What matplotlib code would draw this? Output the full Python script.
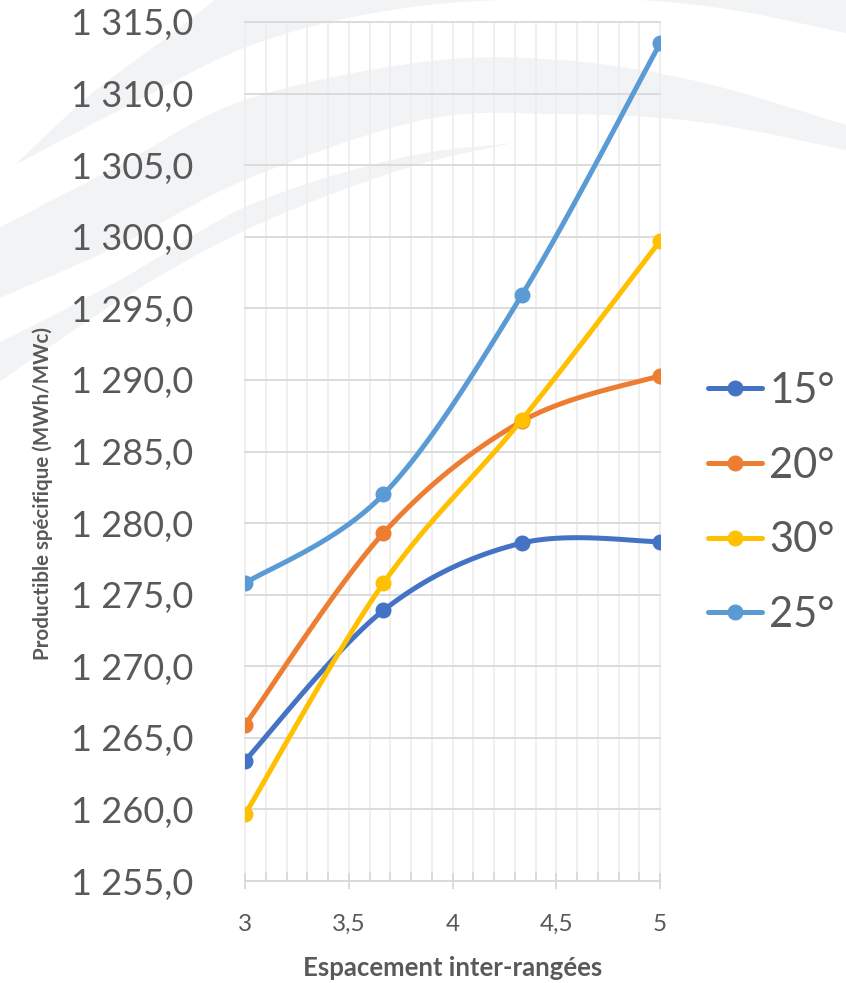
import numpy as np
import matplotlib
matplotlib.use("Agg")
import matplotlib.pyplot as plt
from matplotlib.lines import Line2D
from matplotlib.patches import Polygon
from matplotlib.ticker import FuncFormatter, MultipleLocator

plt.rcParams['font.family'] = ['Lato', 'DejaVu Sans']

# espacement inter-rangées
espacement = [3, 3.667, 4.333, 5]

# productible spécifique (MWh/MWc) par inclinaison
prod_15 = [1263.4, 1273.9, 1278.6, 1278.7]
prod_20 = [1265.9, 1279.3, 1287.1, 1290.3]
prod_30 = [1259.65, 1275.8, 1287.2, 1299.7]
prod_25 = [1275.8, 1282.0, 1295.9, 1313.5]

labels = ["15°", "20°", "30°", "25°"]
couleurs = ["#4472C4", "#ED7D31", "#FFC000", "#5B9BD5"]
valeurs = [prod_15, prod_20, prod_30, prod_25]

GRIS_TEXTE = "#595959"
GRIS_GRILLE = "#D9D9D9"


def lisser(xs, ys, n=40):
    # courbe lissée (bezier, tension 1/6)
    p = np.column_stack([xs, ys]).astype(float)
    pts = np.vstack([p[0], p, p[-1]])
    t = np.linspace(0, 1, n)[:, None]
    out = []
    for i in range(len(p) - 1):
        p0, p1, p2, p3 = pts[i], pts[i + 1], pts[i + 2], pts[i + 3]
        c1 = p1 + (p2 - p0) / 6
        c2 = p2 - (p3 - p1) / 6
        seg = (1 - t) ** 3 * p1 + 3 * (1 - t) ** 2 * t * c1 + 3 * (1 - t) * t ** 2 * c2 + t ** 3 * p2
        out.append(seg if i == 0 else seg[1:])
    out = np.vstack(out)
    return out[:, 0], out[:, 1]


W, H = 846, 983
fig = plt.figure(figsize=(W / 100, H / 100), dpi=100)

# filigrane en arrière-plan (pixels, origine en haut à gauche)
def bande(haut, bas, extra=()):
    ux, uy = lisser([p[0] for p in haut], [p[1] for p in haut], 30)
    lx, ly = lisser([p[0] for p in bas], [p[1] for p in bas], 30)
    xs = list(ux) + [p[0] for p in extra] + list(lx[::-1])
    ys = list(uy) + [p[1] for p in extra] + list(ly[::-1])
    xy = np.column_stack([np.array(xs) / W, 1 - np.array(ys) / H])
    fig.add_artist(Polygon(xy, closed=True, transform=fig.transFigure,
                           facecolor="#F2F3F5", edgecolor="none", zorder=-5))

bande([(15, 165), (90, 95), (170, 35), (240, -20)],
      [(15, 165), (120, 110), (260, 42), (420, 6), (600, -1), (720, 8), (846, 33)],
      extra=[(300, -80), (846, -80)])
bande([(-5, 230), (120, 165), (245, 100), (423, 62), (560, 60), (700, 82), (846, 125)],
      [(-5, 300), (120, 245), (245, 180), (423, 120), (560, 114), (700, 122), (846, 150)])
bande([(-5, 345), (120, 280), (250, 205), (400, 158), (513, 143)],
      [(-5, 385), (120, 300), (250, 228), (400, 170), (513, 143)])

ax = fig.add_axes([245 / W, 102 / H, 415 / W, 859 / H])
ax.patch.set_alpha(0)

for lab, ys, c in zip(labels, valeurs, couleurs):
    sx, sy = lisser(espacement, ys)
    ax.plot(sx, sy, color=c, lw=3.6, solid_capstyle="round", zorder=3)
    ax.plot(espacement, ys, "o", color=c, ms=10.5, zorder=3)

ax.set_xlim(3, 5)
ax.set_ylim(1255, 1315)
ax.xaxis.set_major_locator(MultipleLocator(0.5))
ax.xaxis.set_minor_locator(MultipleLocator(0.1))
ax.yaxis.set_major_locator(MultipleLocator(5))
ax.xaxis.set_major_formatter(FuncFormatter(lambda v, p: f"{v:g}".replace(".", ",")))
ax.yaxis.set_major_formatter(FuncFormatter(
    lambda v, p: f"{v:,.1f}".replace(",", " ").replace(".", ",")))

ax.set_axisbelow(True)
ax.grid(axis="y", which="major", color=GRIS_GRILLE, lw=1.3)
ax.grid(axis="x", which="both", color="#EEEEEE", lw=1.3)
for gl in ax.get_xgridlines() + ax.get_ygridlines():
    gl.set_clip_on(False)
for gl in ax.xaxis.get_minorticklines():
    gl.set_clip_on(False)

for s in ["left", "right", "top"]:
    ax.spines[s].set_visible(False)
ax.spines["bottom"].set_color(GRIS_GRILLE)
ax.spines["bottom"].set_linewidth(1.3)

ax.tick_params(axis="y", length=0, pad=37, labelsize=26, labelcolor=GRIS_TEXTE)
ax.tick_params(axis="x", which="major", direction="inout", length=11.5, width=1.3,
               color=GRIS_GRILLE, pad=18, labelsize=17.5, labelcolor=GRIS_TEXTE)
ax.tick_params(axis="x", which="minor", direction="in", length=6.5, width=1.3,
               color=GRIS_GRILLE)

ax.set_xlabel("Espacement inter-rangées", fontsize=18.5, fontweight="bold",
              color=GRIS_TEXTE, va="center")
ax.xaxis.set_label_coords(0.5, (H - 968 - 102) / 859)
ax.set_ylabel("Productible spécifique (MWh/MWc)", fontsize=14.8, fontweight="bold",
              color=GRIS_TEXTE, va="center")
ax.yaxis.set_label_coords((43 - 245) / 415, (H - 494 - 102) / 859)

poignees = [Line2D([], [], color=c, lw=3.6, marker="o", ms=10.5, solid_capstyle="round")
            for c in couleurs]
ax.legend(poignees, labels, loc="center left", bbox_to_anchor=(708 / W, 1 - 503 / H),
          bbox_transform=fig.transFigure, frameon=False, fontsize=30,
          handlelength=1.3, handletextpad=0.17, labelspacing=0.88,
          borderpad=0, borderaxespad=0, labelcolor=GRIS_TEXTE)

fig.savefig("out.png", dpi=100)
